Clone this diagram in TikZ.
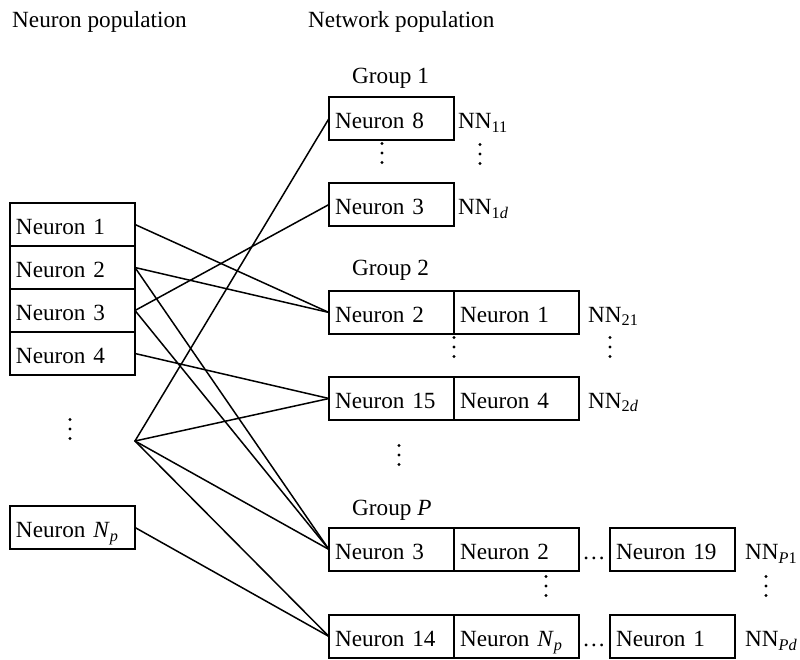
\documentclass[tikz,border=0pt]{standalone}
\usepackage{fontspec}
\setmainfont{Liberation Serif}
\begin{document}
\begin{tikzpicture}[x=1pt,y=-1pt,
  fnt/.style={font=\fontsize{23.2}{27}\selectfont},
  cell/.style={fnt, draw, line width=1.5pt, anchor=north west, outer sep=0pt,
    minimum height=43pt, text width=113pt, inner xsep=6pt, inner ysep=0pt,
    align=left, text height=20pt, text depth=0pt},
  txt/.style={fnt, inner sep=0pt, anchor=base west},
  gap/.style={fnt, inner sep=0pt, text height=20pt, text depth=0pt},
  wire/.style={line width=1.5pt, line cap=round},
  vdot/.pic={\foreach \d in {-9.5,0,9.5} \fill (0,\d) circle (1.7pt);}
]
\useasboundingbox (0,0) rectangle (800,660);

% column headings
\node[txt] (t1) at (12,28) {Neuron population};
\node[txt] (t2) at (308,28) {Network population};

% neuron population
\node[cell] (n1) at (10,203) {Neuron 1};
\node[cell] (n2) at (n1.south west) {Neuron 2};
\node[cell] (n3) at (n2.south west) {Neuron 3};
\node[cell] (n4) at (n3.south west) {Neuron 4};
\node[cell] (np) at (10,506) {Neuron \textit{N}\textsubscript{\textit{p}}};
\pic at (70,429) {vdot};
\coordinate (hub) at (135,441);

% group 1
\node[txt] (grp1) at (352,84) {Group 1};
\node[cell] (g11) at (329,97) {Neuron 8};
\node[cell] (g1d) at (329,183) {Neuron 3};
\node[txt] (nn11) at (458,128.5) {NN\textsubscript{11}};
\node[txt] (nn1d) at (458,214.5) {NN\textsubscript{1\textit{d}}};
\pic at (382,153) {vdot};
\pic at (480,154) {vdot};

% group 2
\node[txt] (grp2) at (352,276) {Group 2};
\node[cell] (g21a) at (329,291) {Neuron 2};
\node[cell] (g21b) at (g21a.north east) {Neuron 1};
\node[cell] (g2da) at (329,377) {Neuron 15};
\node[cell] (g2db) at (g2da.north east) {Neuron 4};
\node[txt] (nn21) at (588,322) {NN\textsubscript{21}};
\node[txt] (nn2d) at (588,408) {NN\textsubscript{2\textit{d}}};
\pic at (454,347) {vdot};
\pic at (610,347) {vdot};
\pic at (399,455) {vdot};

% group P
\node[txt] (grpP) at (352,515) {Group \textit{P}};
\node[cell] (gp1a) at (329,528) {Neuron 3};
\node[cell] (gp1b) at (gp1a.north east) {Neuron 2};
\node[gap] (gp1e) at (594,549.5) {\ldots};
\node[cell] (gp1z) at (610,528) {Neuron 19};
\node[cell] (gpda) at (329,615) {Neuron 14};
\node[cell] (gpdb) at (gpda.north east) {Neuron \textit{N}\textsubscript{\textit{p}}};
\node[gap] (gpde) at (594,636.5) {\ldots};
\node[cell] (gpdz) at (610,615) {Neuron 1};
\node[txt] (nnp1) at (745,559.5) {NN\textsubscript{\textit{P}1}};
\node[txt] (nnpd) at (745,646.5) {NN\textsubscript{\textit{Pd}}};
\pic at (546,586) {vdot};
\pic at (766,586) {vdot};

% assignments of neurons to networks
\draw[wire] (n1.east) -- (g21a.west);
\draw[wire] (n2.east) -- (g21a.west);
\draw[wire] (n2.east) -- (gp1a.west);
\draw[wire] (n3.east) -- (g1d.west);
\draw[wire] (n3.east) -- (gp1a.west);
\draw[wire] (n4.east) -- (g2da.west);
\draw[wire] (hub) -- (g11.west);
\draw[wire] (hub) -- (g2da.west);
\draw[wire] (hub) -- (gp1a.west);
\draw[wire] (hub) -- (gpda.west);
\draw[wire] (np.east) -- (gpda.west);
\end{tikzpicture}
\end{document}
